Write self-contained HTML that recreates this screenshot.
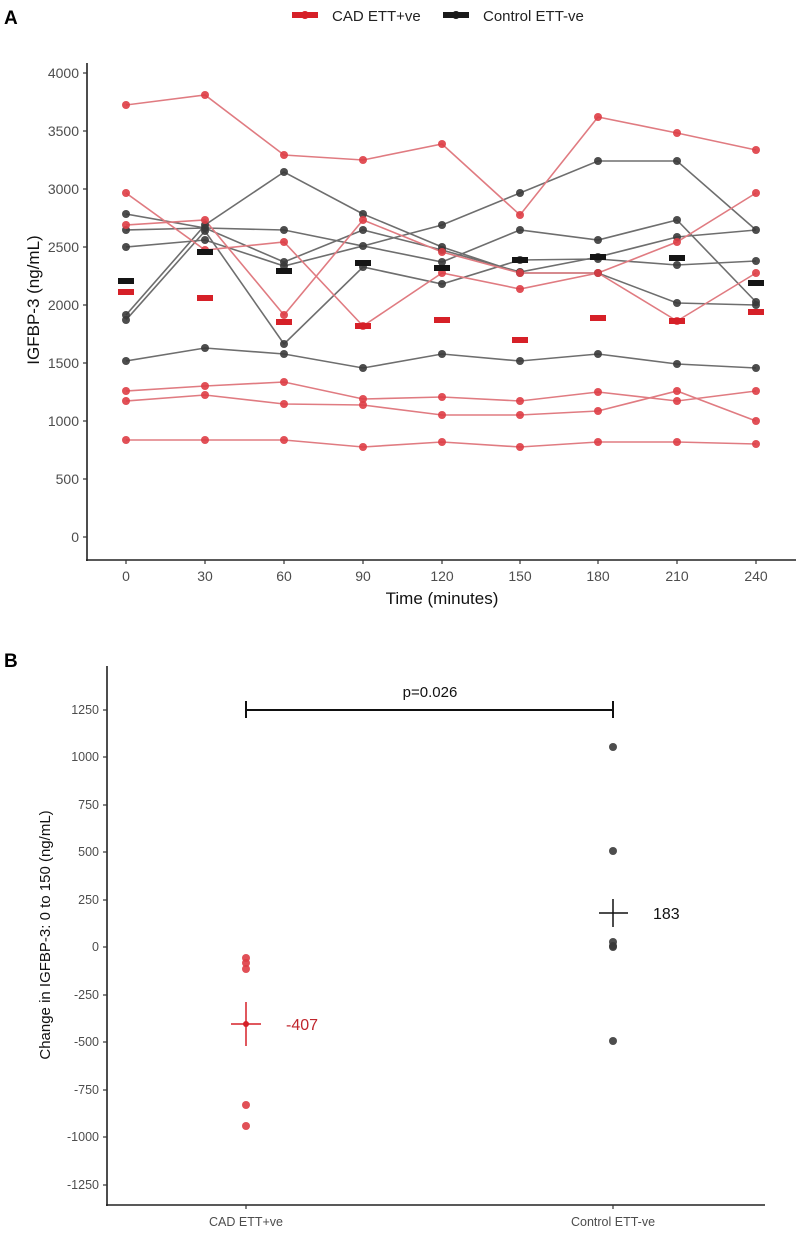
<!DOCTYPE html>
<html><head><meta charset="utf-8"><style>
body{margin:0;background:#fff}
svg{display:block;font-family:"Liberation Sans",Arial,sans-serif}
</style></head><body>
<svg width="800" height="1237" viewBox="0 0 800 1237">
<rect width="800" height="1237" fill="#fff"/>
<text x="4" y="24" font-size="19" font-weight="bold">A</text>
<!-- legend -->
<line x1="292" y1="15" x2="318" y2="15" stroke="#d62028" stroke-width="6"/>
<circle cx="305" cy="15" r="4" fill="#d62028"/>
<text x="332" y="21" font-size="15" fill="#222">CAD ETT+ve</text>
<line x1="443" y1="15" x2="469" y2="15" stroke="#1a1a1a" stroke-width="6"/>
<circle cx="456" cy="15" r="4" fill="#1a1a1a"/>
<text x="483" y="21" font-size="15" fill="#222">Control ETT-ve</text>
<!-- axes A -->
<line x1="87" y1="63" x2="87" y2="561" stroke="#222" stroke-width="1.6"/>
<line x1="86" y1="560" x2="796" y2="560" stroke="#222" stroke-width="1.6"/>
<g stroke="#333" stroke-width="1.2">
<line x1="83" y1="73" x2="87" y2="73"/><line x1="83" y1="131" x2="87" y2="131"/><line x1="83" y1="189" x2="87" y2="189"/><line x1="83" y1="247" x2="87" y2="247"/><line x1="83" y1="305" x2="87" y2="305"/><line x1="83" y1="363" x2="87" y2="363"/><line x1="83" y1="421" x2="87" y2="421"/><line x1="83" y1="479" x2="87" y2="479"/><line x1="83" y1="537" x2="87" y2="537"/>
<line x1="126" y1="560" x2="126" y2="564"/><line x1="205" y1="560" x2="205" y2="564"/><line x1="284" y1="560" x2="284" y2="564"/><line x1="363" y1="560" x2="363" y2="564"/><line x1="442" y1="560" x2="442" y2="564"/><line x1="520" y1="560" x2="520" y2="564"/><line x1="598" y1="560" x2="598" y2="564"/><line x1="677" y1="560" x2="677" y2="564"/><line x1="756" y1="560" x2="756" y2="564"/>
</g>
<g font-size="14" fill="#4d4d4d" text-anchor="end">
<text x="79" y="78">4000</text><text x="79" y="136">3500</text><text x="79" y="194">3000</text><text x="79" y="252">2500</text><text x="79" y="310">2000</text><text x="79" y="368">1500</text><text x="79" y="426">1000</text><text x="79" y="484">500</text><text x="79" y="542">0</text>
</g>
<g font-size="14" fill="#4d4d4d" text-anchor="middle">
<text x="126" y="581">0</text><text x="205" y="581">30</text><text x="284" y="581">60</text><text x="363" y="581">90</text><text x="442" y="581">120</text><text x="520" y="581">150</text><text x="598" y="581">180</text><text x="677" y="581">210</text><text x="756" y="581">240</text>
</g>
<text x="442" y="604" font-size="17" text-anchor="middle" fill="#111">Time (minutes)</text>
<text transform="translate(39,300) rotate(-90)" font-size="17" text-anchor="middle" fill="#111">IGFBP-3 (ng/mL)</text>
<!-- black lines -->
<g fill="none" stroke="#6e6e6e" stroke-width="1.6">
<polyline points="126,315 205,225 284,172 363,214 442,247 520,273 598,273 677,303 756,305"/>
<polyline points="126,320 205,231 284,344 363,267 442,284 520,260 598,259 677,265 756,261"/>
<polyline points="126,230 205,228 284,230 363,246 442,225 520,193 598,161 677,161 756,230"/>
<polyline points="126,214 205,228 284,262 363,230 442,250 520,272 598,257 677,237 756,230"/>
<polyline points="126,247 205,240 284,266 363,246 442,262 520,230 598,240 677,220 756,302"/>
<polyline points="126,361 205,348 284,354 363,368 442,354 520,361 598,354 677,364 756,368"/>
</g>
<g fill="none" stroke="#e07b81" stroke-width="1.6">
<polyline points="126,105 205,95 284,155 363,160 442,144 520,215 598,117 677,133 756,150"/>
<polyline points="126,193 205,250 284,242 363,326 442,273 520,289 598,273 677,242 756,193"/>
<polyline points="126,225 205,220 284,315 363,220 442,252 520,273 598,273 677,321 756,273"/>
<polyline points="126,391 205,386 284,382 363,399 442,397 520,401 598,392 677,401 756,391"/>
<polyline points="126,401 205,395 284,404 363,405 442,415 520,415 598,411 677,391 756,421"/>
<polyline points="126,440 205,440 284,440 363,447 442,442 520,447 598,442 677,442 756,444"/>
</g>
<!-- points -->
<g fill="#3a3a3a" fill-opacity="0.9">
<circle cx="126" cy="315" r="4"/><circle cx="205" cy="225" r="4"/><circle cx="284" cy="172" r="4"/><circle cx="363" cy="214" r="4"/><circle cx="442" cy="247" r="4"/><circle cx="520" cy="273" r="4"/><circle cx="598" cy="273" r="4"/><circle cx="677" cy="303" r="4"/><circle cx="756" cy="305" r="4"/>
<circle cx="126" cy="320" r="4"/><circle cx="205" cy="231" r="4"/><circle cx="284" cy="344" r="4"/><circle cx="363" cy="267" r="4"/><circle cx="442" cy="284" r="4"/><circle cx="520" cy="260" r="4"/><circle cx="598" cy="259" r="4"/><circle cx="677" cy="265" r="4"/><circle cx="756" cy="261" r="4"/>
<circle cx="126" cy="230" r="4"/><circle cx="205" cy="228" r="4"/><circle cx="284" cy="230" r="4"/><circle cx="363" cy="246" r="4"/><circle cx="442" cy="225" r="4"/><circle cx="520" cy="193" r="4"/><circle cx="598" cy="161" r="4"/><circle cx="677" cy="161" r="4"/><circle cx="756" cy="230" r="4"/>
<circle cx="126" cy="214" r="4"/><circle cx="284" cy="262" r="4"/><circle cx="363" cy="230" r="4"/><circle cx="442" cy="250" r="4"/><circle cx="520" cy="272" r="4"/><circle cx="598" cy="257" r="4"/><circle cx="677" cy="237" r="4"/>
<circle cx="126" cy="247" r="4"/><circle cx="205" cy="240" r="4"/><circle cx="284" cy="266" r="4"/><circle cx="442" cy="262" r="4"/><circle cx="520" cy="230" r="4"/><circle cx="598" cy="240" r="4"/><circle cx="677" cy="220" r="4"/><circle cx="756" cy="302" r="4"/>
<circle cx="126" cy="361" r="4"/><circle cx="205" cy="348" r="4"/><circle cx="284" cy="354" r="4"/><circle cx="363" cy="368" r="4"/><circle cx="442" cy="354" r="4"/><circle cx="520" cy="361" r="4"/><circle cx="598" cy="354" r="4"/><circle cx="677" cy="364" r="4"/><circle cx="756" cy="368" r="4"/>
</g>
<g fill="#de3d45" fill-opacity="0.9">
<circle cx="126" cy="105" r="4"/><circle cx="205" cy="95" r="4"/><circle cx="284" cy="155" r="4"/><circle cx="363" cy="160" r="4"/><circle cx="442" cy="144" r="4"/><circle cx="520" cy="215" r="4"/><circle cx="598" cy="117" r="4"/><circle cx="677" cy="133" r="4"/><circle cx="756" cy="150" r="4"/>
<circle cx="126" cy="193" r="4"/><circle cx="205" cy="250" r="4"/><circle cx="284" cy="242" r="4"/><circle cx="363" cy="326" r="4"/><circle cx="442" cy="273" r="4"/><circle cx="520" cy="289" r="4"/><circle cx="598" cy="273" r="4"/><circle cx="677" cy="242" r="4"/><circle cx="756" cy="193" r="4"/>
<circle cx="126" cy="225" r="4"/><circle cx="205" cy="220" r="4"/><circle cx="284" cy="315" r="4"/><circle cx="363" cy="220" r="4"/><circle cx="442" cy="252" r="4"/><circle cx="520" cy="273" r="4"/><circle cx="677" cy="321" r="4"/><circle cx="756" cy="273" r="4"/>
<circle cx="126" cy="391" r="4"/><circle cx="205" cy="386" r="4"/><circle cx="284" cy="382" r="4"/><circle cx="363" cy="399" r="4"/><circle cx="442" cy="397" r="4"/><circle cx="520" cy="401" r="4"/><circle cx="598" cy="392" r="4"/><circle cx="677" cy="401" r="4"/><circle cx="756" cy="391" r="4"/>
<circle cx="126" cy="401" r="4"/><circle cx="205" cy="395" r="4"/><circle cx="284" cy="404" r="4"/><circle cx="363" cy="405" r="4"/><circle cx="442" cy="415" r="4"/><circle cx="520" cy="415" r="4"/><circle cx="598" cy="411" r="4"/><circle cx="677" cy="391" r="4"/><circle cx="756" cy="421" r="4"/>
<circle cx="126" cy="440" r="4"/><circle cx="205" cy="440" r="4"/><circle cx="284" cy="440" r="4"/><circle cx="363" cy="447" r="4"/><circle cx="442" cy="442" r="4"/><circle cx="520" cy="447" r="4"/><circle cx="598" cy="442" r="4"/><circle cx="677" cy="442" r="4"/><circle cx="756" cy="444" r="4"/>
</g>
<!-- mean bars -->
<g fill="#151515">
<rect x="118" y="278" width="16" height="6"/><rect x="197" y="249" width="16" height="6"/><rect x="276" y="268" width="16" height="6"/><rect x="355" y="260" width="16" height="6"/><rect x="434" y="265" width="16" height="6"/><rect x="512" y="257" width="16" height="6"/><rect x="590" y="254" width="16" height="6"/><rect x="669" y="255" width="16" height="6"/><rect x="748" y="280" width="16" height="6"/>
</g>
<g fill="#d62028">
<rect x="118" y="289" width="16" height="6"/><rect x="197" y="295" width="16" height="6"/><rect x="276" y="319" width="16" height="6"/><rect x="355" y="323" width="16" height="6"/><rect x="434" y="317" width="16" height="6"/><rect x="512" y="337" width="16" height="6"/><rect x="590" y="315" width="16" height="6"/><rect x="669" y="318" width="16" height="6"/><rect x="748" y="309" width="16" height="6"/>
</g>

<!-- Panel B -->
<text x="4" y="667" font-size="19" font-weight="bold">B</text>
<line x1="107" y1="666" x2="107" y2="1206" stroke="#222" stroke-width="1.6"/>
<line x1="106" y1="1205" x2="765" y2="1205" stroke="#222" stroke-width="1.6"/>
<g stroke="#333" stroke-width="1.2">
<line x1="103" y1="710" x2="107" y2="710"/><line x1="103" y1="757" x2="107" y2="757"/><line x1="103" y1="805" x2="107" y2="805"/><line x1="103" y1="852" x2="107" y2="852"/><line x1="103" y1="900" x2="107" y2="900"/><line x1="103" y1="947" x2="107" y2="947"/><line x1="103" y1="995" x2="107" y2="995"/><line x1="103" y1="1042" x2="107" y2="1042"/><line x1="103" y1="1090" x2="107" y2="1090"/><line x1="103" y1="1137" x2="107" y2="1137"/><line x1="103" y1="1185" x2="107" y2="1185"/>
<line x1="246" y1="1205" x2="246" y2="1209"/><line x1="613" y1="1205" x2="613" y2="1209"/>
</g>
<g font-size="12.5" fill="#4d4d4d" text-anchor="end">
<text x="99" y="714">1250</text><text x="99" y="761">1000</text><text x="99" y="809">750</text><text x="99" y="856">500</text><text x="99" y="904">250</text><text x="99" y="951">0</text><text x="99" y="999">-250</text><text x="99" y="1046">-500</text><text x="99" y="1094">-750</text><text x="99" y="1141">-1000</text><text x="99" y="1189">-1250</text>
</g>
<g font-size="12.5" fill="#4d4d4d" text-anchor="middle">
<text x="246" y="1226">CAD ETT+ve</text><text x="613" y="1226">Control ETT-ve</text>
</g>
<text transform="translate(50,935) rotate(-90)" font-size="15" text-anchor="middle" fill="#111">Change in IGFBP-3: 0 to 150 (ng/mL)</text>
<g stroke="#111" stroke-width="2">
<line x1="246" y1="710" x2="613" y2="710"/><line x1="246" y1="701" x2="246" y2="718"/><line x1="613" y1="701" x2="613" y2="718"/>
</g>
<text x="430" y="697" font-size="15" text-anchor="middle" fill="#111">p=0.026</text>
<g fill="#de3d45" fill-opacity="0.9">
<circle cx="246" cy="958" r="4"/><circle cx="246" cy="963" r="4"/><circle cx="246" cy="969" r="4"/><circle cx="246" cy="1105" r="4"/><circle cx="246" cy="1126" r="4"/>
</g>
<g stroke="#d62028" stroke-width="1.5"><line x1="231" y1="1024" x2="261" y2="1024"/><line x1="246" y1="1002" x2="246" y2="1046"/></g>
<circle cx="246" cy="1024" r="3" fill="#d62028"/>
<text x="286" y="1030" font-size="16" fill="#c0262d">-407</text>
<g fill="#3a3a3a" fill-opacity="0.9">
<circle cx="613" cy="747" r="4"/><circle cx="613" cy="851" r="4"/><circle cx="613" cy="942" r="4"/><circle cx="613" cy="946" r="4"/><circle cx="613" cy="947" r="4"/><circle cx="613" cy="1041" r="4"/>
</g>
<g stroke="#111" stroke-width="1.5"><line x1="599" y1="913" x2="628" y2="913"/><line x1="613" y1="899" x2="613" y2="927"/></g>
<text x="653" y="919" font-size="16" fill="#111">183</text>
</svg>
</body></html>
